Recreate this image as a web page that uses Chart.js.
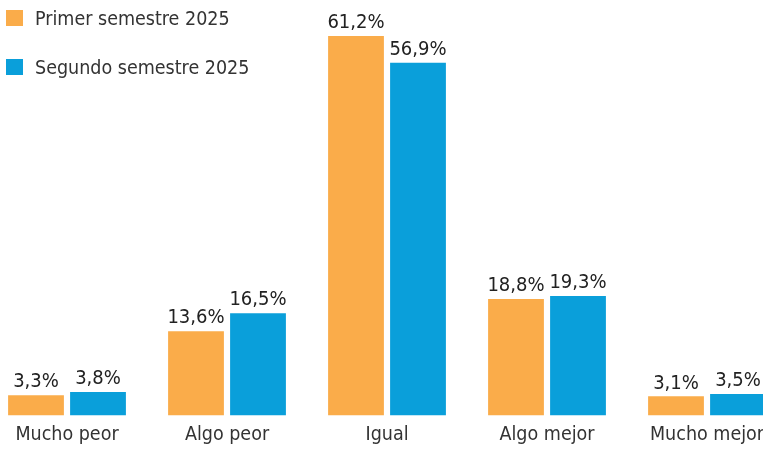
<!DOCTYPE html>
<html>
<head>
<meta charset="utf-8">
<script src="https://cdn.jsdelivr.net/npm/chart.js@4.4.1/dist/chart.umd.min.js"></script>
<style>
  html, body { margin: 0; padding: 0; background: #fff; overflow: hidden; }
  #wrap { position: relative; width: 763px; height: 452px; overflow: hidden; }
  #box { position: absolute; left: -13px; top: 0; width: 800px; height: 452px; }
  #legend { position: absolute; left: 6px; top: 4px; font-family: "DejaVu Sans Condensed", Roboto, sans-serif; font-size: 19.5px; color: #333; }
  .item { display: flex; align-items: center; height: 28px; margin-bottom: 21px; }
  .sw { width: 17px; height: 16px; margin-right: 12px; }
</style>
</head>
<body>
<div id="wrap">
  <div id="box"><canvas id="myChart"></canvas></div>
  <div id="legend"></div>
</div>
<script>
// categories and series
const categories = ['Mucho peor', 'Algo peor', 'Igual', 'Algo mejor', 'Mucho mejor'];
const seriesNames = ['Primer semestre 2025', 'Segundo semestre 2025'];
const primer = [3.3, 13.6, 61.2, 18.8, 3.1];
const segundo = [3.8, 16.5, 56.9, 19.3, 3.5];
const colors = ['#FAAC4A', '#0A9FDA'];

const fontFamily = '"DejaVu Sans Condensed", Roboto, sans-serif';

// html legend, stacked vertically like the original
const legend = document.getElementById('legend');
seriesNames.forEach(function(name, i) {
    const item = document.createElement('div');
    item.className = 'item';
    const sw = document.createElement('span');
    sw.className = 'sw';
    sw.style.background = colors[i];
    item.appendChild(sw);
    item.appendChild(document.createTextNode(name));
    legend.appendChild(item);
});

// value labels on top of each bar
const valueLabels = {
    id: 'valueLabels',
    afterDatasetsDraw(chart) {
        const ctx = chart.ctx;
        ctx.save();
        ctx.font = '20px ' + fontFamily;
        ctx.fillStyle = '#222';
        ctx.textAlign = 'center';
        ctx.textBaseline = 'bottom';
        chart.data.datasets.forEach(function(ds, i) {
            chart.getDatasetMeta(i).data.forEach(function(bar, j) {
                const txt = ds.data[j].toFixed(1).replace('.', ',') + '%';
                ctx.fillText(txt, bar.x, bar.y - 3);
            });
        });
        ctx.restore();
    }
};

const ctx = document.getElementById('myChart').getContext('2d');
const myChart = new Chart(ctx, {
    type: 'bar',
    data: {
        labels: categories,
        datasets: [
            { label: seriesNames[0], data: primer, backgroundColor: colors[0] },
            { label: seriesNames[1], data: segundo, backgroundColor: colors[1] }
        ]
    },
    options: {
        responsive: true,
        maintainAspectRatio: false,
        animation: false,
        categoryPercentage: 0.775,
        barPercentage: 0.9,
        layout: { padding: { top: 0, bottom: -3, left: 0, right: 0 } },
        plugins: {
            legend: { display: false },
            tooltip: { enabled: false }
        },
        scales: {
            x: {
                grid: { display: false, drawTicks: false },
                border: { display: false },
                ticks: {
                    padding: 8,
                    color: '#333',
                    font: { family: fontFamily, size: 19.5 }
                }
            },
            y: {
                display: false,
                min: 0,
                max: 67
            }
        }
    },
    plugins: [valueLabels]
});
</script>
</body>
</html>
